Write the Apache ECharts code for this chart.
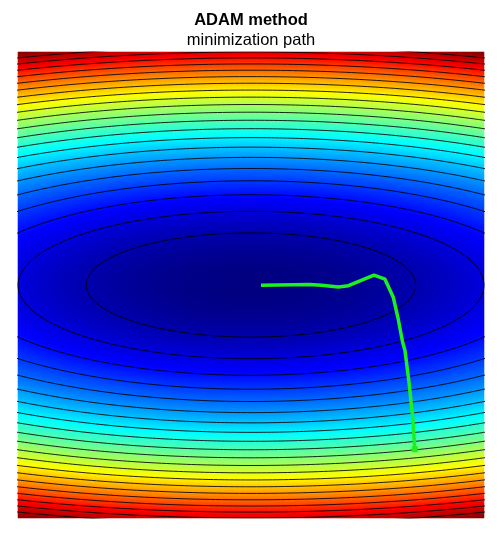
<!DOCTYPE html>
<html>
<head>
<meta charset="utf-8">
<script src="https://cdn.jsdelivr.net/npm/echarts@6/dist/echarts.min.js"></script>
<style>
html,body{margin:0;padding:0;background:#fff;}
#main{width:502px;height:534px;}
</style>
</head>
<body>
<div id="main"></div>
<script>
// ---- chart content ----
var titleText = 'ADAM method';
var subtitleText = 'minimization path';

// objective f(x,y) = x^2 / xScale + y^2 on the square domain
var domainMin = -10, domainMax = 10;
var xScale = 10;
var colorMin = 0, colorMax = 110;

// contour levels drawn as black lines
var contourLevels = [5, 10, 15, 20, 25, 30, 35, 40, 45, 50, 55, 60, 65, 70, 75, 80, 85, 90, 95, 100, 105];

// ADAM path, starting point first
var pathX = [7.03, 6.94, 6.79, 6.61, 6.51, 6.32, 6.11, 5.75, 5.28, 4.18, 3.75, 3.03, 2.53, 0.43];
var pathY = [-7.05, -5.69, -4.25, -2.82, -2.47, -1.47, -0.54, 0.25, 0.42, -0.03, -0.09, -0.01, 0.02, -0.01];

// jet colormap stops (evenly spaced)
var jetColors = ['#000080', '#0000ff', '#0080ff', '#00ffff', '#80ff80', '#ffff00', '#ff8000', '#ff0000', '#800000'];

// ---- build library inputs ----
var N = 233;
function f(x, y) { return x * x / xScale + y * y; }
var cats = [];
var heat = [];
var step = (domainMax - domainMin) / N;
for (var i = 0; i < N; i++) cats.push(i);
for (var i = 0; i < N; i++) {
  var x = domainMin + (i + 0.5) * step;
  for (var j = 0; j < N; j++) {
    var y = domainMin + (j + 0.5) * step;
    heat.push([i, j, f(x, y)]);
  }
}

var contourSeries = contourLevels.map(function (L) {
  var pts = [];
  var a = Math.sqrt(L * xScale), b = Math.sqrt(L);
  for (var k = 0; k <= 720; k++) {
    var t = k / 720 * 2 * Math.PI;
    pts.push([a * Math.cos(t), b * Math.sin(t)]);
  }
  return {
    type: 'line', xAxisIndex: 1, yAxisIndex: 1, data: pts,
    showSymbol: false, symbol: 'none', clip: true, silent: true,
    lineStyle: { color: '#000', width: 1, opacity: 0.85 },
    z: 3
  };
});

var pathData = pathX.map(function (v, k) { return [v, pathY[k]]; });

var gridPos = { left: 18, top: 52, width: 466, height: 466 };

var option = {
  animation: false,
  title: {
    text: titleText,
    subtext: subtitleText,
    left: 'center',
    top: 5,
    itemGap: 0,
    textStyle: { fontFamily: 'Liberation Sans, Arial, sans-serif', fontSize: 16.5, fontWeight: 'bold', color: '#000', lineHeight: 20 },
    subtextStyle: { fontFamily: 'Liberation Sans, Arial, sans-serif', fontSize: 16.5, color: '#000', lineHeight: 20 }
  },
  grid: [
    Object.assign({}, gridPos),
    Object.assign({}, gridPos)
  ],
  xAxis: [
    { type: 'category', data: cats, gridIndex: 0, show: false, boundaryGap: true },
    { type: 'value', gridIndex: 1, min: domainMin, max: domainMax, show: false }
  ],
  yAxis: [
    { type: 'category', data: cats, gridIndex: 0, show: false, boundaryGap: true },
    { type: 'value', gridIndex: 1, min: domainMin, max: domainMax, show: false }
  ],
  visualMap: {
    show: false, type: 'continuous', min: colorMin, max: colorMax, seriesIndex: 0,
    inRange: { color: jetColors }
  },
  series: [
    {
      type: 'heatmap', xAxisIndex: 0, yAxisIndex: 0, data: heat,
      progressive: 0, silent: true,
      itemStyle: { borderWidth: 0 }
    }
  ].concat(contourSeries).concat([
    {
      type: 'line', xAxisIndex: 1, yAxisIndex: 1, data: pathData,
      symbol: 'rect', showSymbol: true,
      showAllSymbol: true,
      lineStyle: { color: '#1ef01e', width: 3.5 },
      itemStyle: { color: '#1ef01e' },
      clip: true, z: 5,
      // only the starting point gets a marker
      symbolSize: function (v, p) { return p.dataIndex === 0 ? 6 : 0; }
    }
  ])
};

var chart = echarts.init(document.getElementById('main'), null, { renderer: 'canvas' });
chart.setOption(option);
</script>
</body>
</html>
